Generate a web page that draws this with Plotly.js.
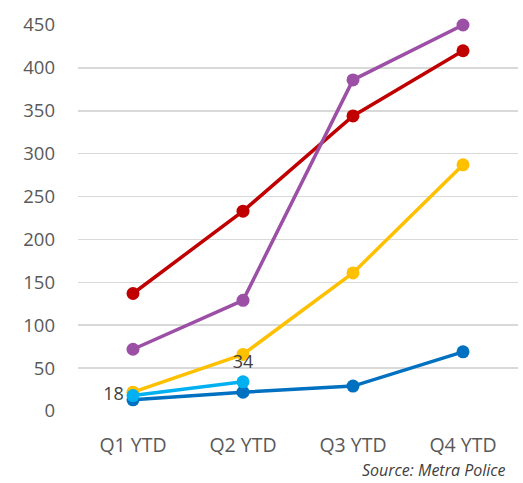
<!DOCTYPE html>
<html><head><meta charset="utf-8">
<script src="https://cdn.plot.ly/plotly-3.0.1.min.js"></script>
<style>html,body{margin:0;padding:0;background:#fff}#chart{width:523px;height:483px}</style>
</head><body><div id="chart"></div>
<script>
const categories = ['Q1 YTD','Q2 YTD','Q3 YTD','Q4 YTD'];
const redValues = [137, 233, 344, 420];
const purpleValues = [72, 129, 386, 450];
const yellowValues = [22, 66, 161, 287];
const lightBlueValues = [18, 34];
const darkBlueValues = [13, 22, 29, 69];
const lightBlueLabels = ['18', '34'];
const yTicks = [0,50,100,150,200,250,300,350,400,450];

function tr(y, color, extra) {
  return Object.assign({
    x: categories.slice(0, y.length), y: y, type: 'scatter', mode: 'lines+markers',
    line: {color: color, width: 3.5}, marker: {color: color, size: 13},
    cliponaxis: false, showlegend: false, hoverinfo: 'skip'
  }, extra || {});
}
const data = [
  tr(darkBlueValues, '#0070C0'),
  tr(yellowValues, '#FFC000'),
  tr(lightBlueValues, '#00B0F0', {mode: 'lines+markers+text', text: lightBlueLabels,
     textposition: ['middle left','top center'], textfont: {family: 'Open Sans', size: 18, color: '#404040'}}),
  tr(redValues, '#C00000'),
  tr(purpleValues, '#9B4FA5')
];
const layout = {
  width: 523, height: 483,
  margin: {l: 78, r: 5, t: 25, b: 72},
  paper_bgcolor: '#fff', plot_bgcolor: '#fff',
  font: {family: 'Open Sans', color: '#595959'},
  xaxis: {type: 'category', range: [-0.5, 3.5], showgrid: false, zeroline: false, showline: false,
    tickfont: {size: 19.5, color: '#595959'}, ticks: '', ticklabelstandoff: 20},
  yaxis: {range: [0, 450], tickvals: yTicks, showgrid: true, gridcolor: '#D9D9D9', gridwidth: 1.5,
    zeroline: false, showline: false, tickfont: {size: 18.5, color: '#595959'}, ticks: '', ticklabelstandoff: 22},
  annotations: [{text: '<i>Source: Metra Police</i>', xref: 'paper', yref: 'paper', x: 1, y: 0,
    xanchor: 'right', yanchor: 'top', yshift: -46, xshift: -10, showarrow: false,
    font: {family: 'Open Sans', size: 16, color: '#404040'}}]
};
Plotly.newPlot('chart', data, layout, {displayModeBar: false, staticPlot: true});
</script></body></html>
